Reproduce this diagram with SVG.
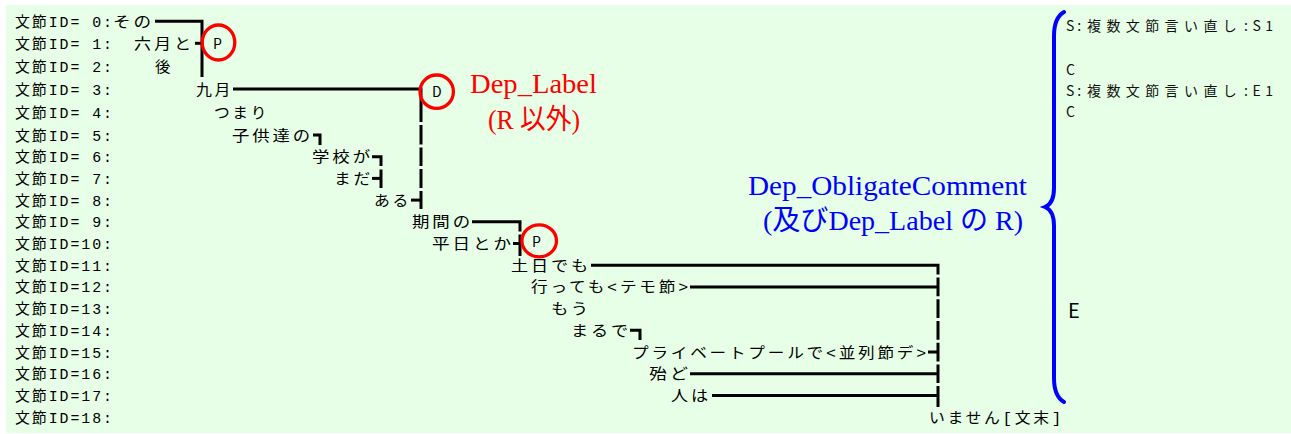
<svg xmlns="http://www.w3.org/2000/svg" width="1291" height="434" viewBox="0 0 1291 434">
<style>
.t{font-family:"Liberation Mono","Noto Sans CJK JP",monospace;font-size:14.9px;fill:#000}
.c{font-family:"Liberation Mono","Noto Sans CJK JP",monospace;font-size:14.9px;fill:#000;letter-spacing:2.5px}
.m{font-family:"Noto Sans CJK JP","Noto Sans",sans-serif;font-size:14px;fill:#000}
.r{font-family:"Noto Sans CJK JP","Noto Sans",sans-serif;font-size:14px;fill:#111}
.ln{fill:none;stroke:#000;stroke-width:3}
.ring{fill:none;stroke:#f00;stroke-width:3.3}
.red{font-family:"Liberation Serif","Noto Sans CJK JP",serif;font-size:28px;fill:#f00}
.blue{font-family:"Liberation Serif","Noto Sans CJK JP",serif;font-size:28px;fill:#00f}
</style>
<rect x="0" y="0" width="1291" height="434" fill="#fff"/>
<rect x="6" y="5" width="1285" height="428" fill="#e6ffe6"/>

<g id="connectors">
<path class="ln" d="M155,21.3 H202 V77"/>
<path class="ln" d="M195,43.3 H202"/>
<path class="ln" d="M233,89 H421 V122 M421,125 V144.5 M421,147.5 V166 M421,169 V188 M421,191 V209"/>
<path class="ln" d="M313,135 H320 V145"/>
<path class="ln" d="M372,156.7 H381 V166 M381,169.5 V188"/>
<path class="ln" d="M372,178.4 H381"/>
<path class="ln" d="M411,200.1 H421"/>
<path class="ln" d="M472,221.8 H520 V231.5 M520,234.5 V256"/>
<path class="ln" d="M513,243.5 H520"/>
<path class="ln" d="M591,265.2 H938 V274.5 M938,277.5 V296.3 M938,299.3 V318 M938,321 V339.7 M938,342.7 V361.4 M938,364.4 V383.1 M938,386.1 V407"/>
<path class="ln" d="M690,286.9 H938"/>
<path class="ln" d="M630,330.3 H640 V340"/>
<path class="ln" d="M928,352 H938"/>
<path class="ln" d="M690,373.7 H938"/>
<path class="ln" d="M712,395.4 H938"/>
</g>

<g id="row-0"><text class="t" x="15" y="26.8" textLength="97" lengthAdjust="spacing">文節ID= 0:</text><text class="c" x="113" y="26.8" textLength="41" lengthAdjust="spacingAndGlyphs">その</text></g>
<g id="row-1"><text class="t" x="15" y="48.8" textLength="97" lengthAdjust="spacing">文節ID= 1:</text><text class="c" x="134" y="48.8" textLength="60" lengthAdjust="spacingAndGlyphs">六月と</text></g>
<g id="row-2"><text class="t" x="15" y="72" textLength="97" lengthAdjust="spacing">文節ID= 2:</text><text class="c" x="155" y="72" textLength="18" lengthAdjust="spacingAndGlyphs">後</text></g>
<g id="row-3"><text class="t" x="15" y="94.5" textLength="97" lengthAdjust="spacing">文節ID= 3:</text><text class="c" x="196" y="94.5" textLength="37" lengthAdjust="spacingAndGlyphs">九月</text></g>
<g id="row-4"><text class="t" x="15" y="117.5" textLength="97" lengthAdjust="spacing">文節ID= 4:</text><text class="c" x="214" y="117.5" textLength="55" lengthAdjust="spacingAndGlyphs">つまり</text></g>
<g id="row-5"><text class="t" x="15" y="140.5" textLength="97" lengthAdjust="spacing">文節ID= 5:</text><text class="c" x="232" y="140.5" textLength="81" lengthAdjust="spacingAndGlyphs">子供達の</text></g>
<g id="row-6"><text class="t" x="15" y="162.2" textLength="97" lengthAdjust="spacing">文節ID= 6:</text><text class="c" x="312" y="162.2" textLength="61" lengthAdjust="spacingAndGlyphs">学校が</text></g>
<g id="row-7"><text class="t" x="15" y="183.9" textLength="97" lengthAdjust="spacing">文節ID= 7:</text><text class="c" x="334" y="183.9" textLength="39" lengthAdjust="spacingAndGlyphs">まだ</text></g>
<g id="row-8"><text class="t" x="15" y="205.6" textLength="97" lengthAdjust="spacing">文節ID= 8:</text><text class="c" x="374" y="205.6" textLength="37" lengthAdjust="spacingAndGlyphs">ある</text></g>
<g id="row-9"><text class="t" x="15" y="227.3" textLength="97" lengthAdjust="spacing">文節ID= 9:</text><text class="c" x="412" y="227.3" textLength="61" lengthAdjust="spacingAndGlyphs">期間の</text></g>
<g id="row-10"><text class="t" x="15" y="249" textLength="97" lengthAdjust="spacing">文節ID=10:</text><text class="c" x="432" y="249" textLength="82" lengthAdjust="spacingAndGlyphs">平日とか</text></g>
<g id="row-11"><text class="t" x="15" y="270.7" textLength="97" lengthAdjust="spacing">文節ID=11:</text><text class="c" x="511" y="270.7" textLength="80" lengthAdjust="spacingAndGlyphs">土日でも</text></g>
<g id="row-12"><text class="t" x="15" y="292.4" textLength="97" lengthAdjust="spacing">文節ID=12:</text><text class="c" x="531" y="292.4" textLength="160" lengthAdjust="spacingAndGlyphs">行っても&lt;テモ節&gt;</text></g>
<g id="row-13"><text class="t" x="15" y="314.1" textLength="97" lengthAdjust="spacing">文節ID=13:</text><text class="c" x="551" y="314.1" textLength="40" lengthAdjust="spacingAndGlyphs">もう</text></g>
<g id="row-14"><text class="t" x="15" y="335.8" textLength="97" lengthAdjust="spacing">文節ID=14:</text><text class="c" x="571" y="335.8" textLength="60" lengthAdjust="spacingAndGlyphs">まるで</text></g>
<g id="row-15"><text class="t" x="15" y="357.5" textLength="97" lengthAdjust="spacing">文節ID=15:</text><text class="c" x="632" y="357.5" textLength="297" lengthAdjust="spacingAndGlyphs">プライベートプールで&lt;並列節デ&gt;</text></g>
<g id="row-16"><text class="t" x="15" y="379.2" textLength="97" lengthAdjust="spacing">文節ID=16:</text><text class="c" x="649" y="379.2" textLength="42" lengthAdjust="spacingAndGlyphs">殆ど</text></g>
<g id="row-17"><text class="t" x="15" y="400.9" textLength="97" lengthAdjust="spacing">文節ID=17:</text><text class="c" x="671" y="400.9" textLength="40" lengthAdjust="spacingAndGlyphs">人は</text></g>
<g id="row-18"><text class="t" x="15" y="422.6" textLength="97" lengthAdjust="spacing">文節ID=18:</text><text class="c" x="929" y="422.6" textLength="135" lengthAdjust="spacingAndGlyphs">いません[文末]</text></g>

<g id="mark-P1"><ellipse class="ring" cx="218.5" cy="42.5" rx="16.3" ry="17.5"/><text class="m" x="213" y="48.5">P</text></g>
<g id="mark-D"><ellipse class="ring" cx="436.7" cy="91.7" rx="16.7" ry="16.7"/><text class="m" x="432" y="96.5">D</text></g>
<g id="mark-P2"><ellipse class="ring" cx="539.2" cy="240.8" rx="17.3" ry="16"/><text class="m" x="532" y="246.5">P</text></g>

<g id="label-dep-label">
<text class="red" x="470" y="93" textLength="127" lengthAdjust="spacingAndGlyphs">Dep_Label</text>
<text class="red" x="488" y="129" textLength="92" lengthAdjust="spacingAndGlyphs">(R 以外)</text>
</g>
<g id="label-obligate">
<text class="blue" x="748" y="195" textLength="279" lengthAdjust="spacingAndGlyphs">Dep_ObligateComment</text>
<text class="blue" x="763" y="230" textLength="260" lengthAdjust="spacingAndGlyphs">(及びDep_Label の R)</text>
</g>
<g id="brace">
<path d="M1064,12 C1057,16 1054,24 1054,36 L1054,188 C1054,200 1050,205 1045,207 C1050,209 1054,214 1054,226 L1054,378 C1054,390 1057,398 1064,402" fill="none" stroke="#00f" stroke-width="4" stroke-linecap="round"/>
</g>
<g id="side-tags">
<text class="r" y="31.3"><tspan x="1066" letter-spacing="3">S:</tspan><tspan x="1087" letter-spacing="5.4">複数文節言い直し</tspan><tspan x="1244" letter-spacing="4.5">:S1</tspan></text>
<text class="r" x="1066" y="75.1">C</text>
<text class="r" y="95.6"><tspan x="1066" letter-spacing="3">S:</tspan><tspan x="1087" letter-spacing="5.4">複数文節言い直し</tspan><tspan x="1244" letter-spacing="4.5">:E1</tspan></text>
<text class="r" x="1066" y="116.8">C</text>
<text class="m" x="1068" y="318" style="font-size:20px">E</text>
</g>
</svg>
